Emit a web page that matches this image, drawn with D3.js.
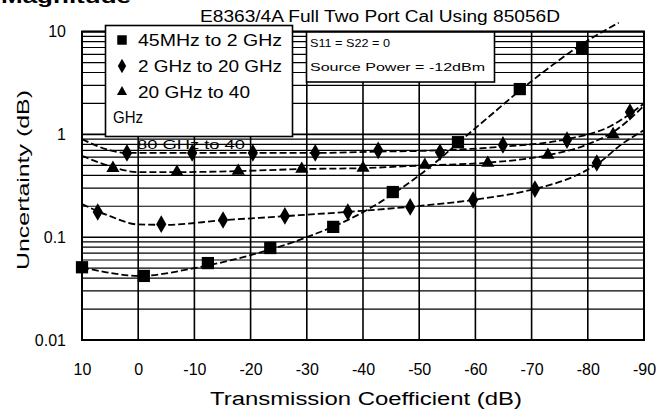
<!DOCTYPE html>
<html><head><meta charset="utf-8">
<script src="https://cdn.jsdelivr.net/npm/d3@7"></script>
<style>
html,body{margin:0;padding:0;background:#fff;}
svg{display:block;}
text{font-family:"Liberation Sans Narrow","Arial Narrow","Liberation Sans",Arial,sans-serif;fill:#000;}
</style></head>
<body>
<svg id="c" width="658" height="412"></svg>
<script>
// ---------- data ----------
const title = "E8363/4A Full Two Port Cal Using 85056D";
const xLabel = "Transmission Coefficient (dB)";
const yLabel = "Uncertainty (dB)";
const xTicks = [10, 0, -10, -20, -30, -40, -50, -60, -70, -80, -90];
const yTicks = [0.01, 0.1, 1, 10];
const yTickLabels = ["0.01", "0.1", "1", "10"];
const yMinor = [0.02,0.03,0.04,0.05,0.06,0.07,0.08,0.09,0.2,0.3,0.4,0.5,0.6,0.7,0.8,0.9,2,3,4,5,6,7,8,9];
const legendNames = ["45MHz to 2  GHz", "2 GHz to 20 GHz", "20 GHz to 40", "GHz"];
const noteLines = ["S11 = S22 = 0", "Source Power = -12dBm"];

// 45 MHz to 2 GHz (squares)
const sqX = [10, -1, -12.4, -23.5, -34.7, -45.3, -56.9, -67.9, -79];
const sqY = [0.051, 0.042, 0.056, 0.0785, 0.126, 0.275, 0.84, 2.76, 6.9];
const sqFitX = [10, 5, 0, -10, -20, -30, -40, -50, -60, -70, -80, -85.5];
const sqFitY = [0.051, 0.045, 0.042, 0.05, 0.067, 0.1, 0.175, 0.4, 1.15, 3.3, 8.2, 12.2];

// 2 GHz to 20 GHz (diamonds, lower)
const dmX = [7.2, -4.1, -15.1, -26.1, -37.3, -48.4, -59.6, -70.6, -81.6];
const dmY = [0.176, 0.134, 0.147, 0.161, 0.176, 0.197, 0.230, 0.294, 0.527];
const dmFitX = [10, 5, 0, -5, -15, -26, -37, -48, -60, -70, -78, -82, -86, -90];
const dmFitY = [0.21, 0.16, 0.133, 0.132, 0.146, 0.16, 0.176, 0.197, 0.232, 0.29, 0.4, 0.53, 0.8, 1.1];

// 20 GHz to 40 GHz (triangles)
const trX = [4.5, -6.9, -17.8, -29.1, -40, -51, -62.2, -72.9, -84.5];
const trY = [0.47, 0.431, 0.44, 0.46, 0.471, 0.504, 0.527, 0.63, 1.0];
const trFitX = [10, 5, 0, -7, -18, -29, -40, -51, -62, -73, -80, -85, -90];
const trFitY = [0.62, 0.49, 0.43, 0.43, 0.44, 0.46, 0.47, 0.5, 0.53, 0.63, 0.8, 1.1, 1.9];

// upper diamonds series
const upX = [2, -9.6, -20.4, -31.5, -42.7, -53.7, -64.9, -76.3, -87.5];
const upY = [0.66, 0.66, 0.66, 0.66, 0.70, 0.67, 0.79, 0.88, 1.65];
const upFitX = [10, 5, 2, -9.6, -20.4, -31.5, -42.7, -53.7, -64.9, -76.3, -84, -90];
const upFitY = [0.9, 0.7, 0.66, 0.66, 0.66, 0.66, 0.68, 0.7, 0.76, 0.9, 1.2, 2.0];

// ---------- layout ----------
const svg = d3.select("#c");
const L = 82, R = 644, T = 31.6, B = 340;
const x = d3.scaleLinear().domain([10, -90]).range([L, R]);
const y = d3.scaleLog().domain([0.01, 10]).range([B, T]);

// cut-off heading at very top
svg.append("text").attr("x", 1).attr("y", 3).attr("font-size", 19)
  .attr("font-weight", "bold").attr("font-family", "Liberation Sans, Arial, sans-serif")
  .attr("textLength", 130).attr("lengthAdjust", "spacingAndGlyphs").text("Magnitude");

// title
svg.append("text").attr("x", 200).attr("y", 22).attr("font-size", 16)
  .attr("textLength", 360).attr("lengthAdjust", "spacingAndGlyphs").text(title);

// ghost text underneath grid
svg.append("text").attr("x", 137).attr("y", 149).attr("font-size", 12)
  .attr("textLength", 108).attr("lengthAdjust", "spacingAndGlyphs").text("80 GHz to 40");

const g = svg.append("g");
// minor grid
g.selectAll("line.minor").data(yMinor).join("line")
  .attr("x1", L).attr("x2", R).attr("y1", d => y(d)).attr("y2", d => y(d))
  .attr("stroke", "#000").attr("stroke-width", 1.2);
// major horizontal grid
g.selectAll("line.major").data(yTicks).join("line")
  .attr("x1", L).attr("x2", R).attr("y1", d => y(d)).attr("y2", d => y(d))
  .attr("stroke", "#000").attr("stroke-width", 1.6);
// vertical grid
g.selectAll("line.vg").data(xTicks).join("line")
  .attr("x1", d => x(d)).attr("x2", d => x(d)).attr("y1", T).attr("y2", B)
  .attr("stroke", "#000").attr("stroke-width", 1.6);

// axes tick labels
const xa = d3.axisBottom(x).tickValues(xTicks).tickSize(0).tickPadding(0).tickFormat(d => String(d));
const xg = svg.append("g").attr("transform", `translate(0,${B + 24})`).call(xa);
xg.select(".domain").remove();
xg.selectAll("text").attr("font-size", 16).attr("dy", "0.71em")
  .attr("font-family", "Liberation Sans Narrow, Arial Narrow, Liberation Sans, sans-serif");

const ya = d3.axisLeft(y).tickValues(yTicks).tickSize(0).tickPadding(16)
  .tickFormat((d, i) => yTickLabels[i]);
const yg = svg.append("g").attr("transform", `translate(${L},0)`).call(ya);
yg.select(".domain").remove();
yg.selectAll("text").attr("font-size", 16)
  .attr("font-family", "Liberation Sans Narrow, Arial Narrow, Liberation Sans, sans-serif");

// axis labels
svg.append("text").attr("x", 210).attr("y", 405).attr("font-size", 18)
  .attr("textLength", 312).attr("lengthAdjust", "spacingAndGlyphs").text(xLabel);
svg.append("text").attr("transform", "translate(29,270) rotate(-90)").attr("font-size", 17)
  .attr("textLength", 180).attr("lengthAdjust", "spacingAndGlyphs").text(yLabel);

// curves
const line = d3.line().x(d => x(d[0])).y(d => y(d[1])).curve(d3.curveMonotoneX);
const fits = [[sqFitX, sqFitY], [dmFitX, dmFitY], [trFitX, trFitY], [upFitX, upFitY]];
fits.forEach(([fx, fy]) => {
  svg.append("path").datum(fx.map((v, i) => [v, fy[i]])).attr("d", line)
    .attr("fill", "none").attr("stroke", "#000").attr("stroke-width", 1.8)
    .attr("stroke-dasharray", "7,3");
});

// markers
function draw(xs, ys, type) {
  const pts = xs.map((v, i) => [x(v), y(ys[i])]);
  const sym = type === "sq" ? d3.symbolSquare : type === "tr" ? d3.symbolTriangle : d3.symbolDiamond;
  const size = type === "sq" ? 150 : type === "tr" ? 75 : 90;
  svg.append("g").selectAll("path").data(pts).join("path")
    .attr("transform", d => `translate(${d[0]},${d[1]})`)
    .attr("d", d3.symbol().type(sym).size(size)).attr("fill", "#000");
}
draw(sqX, sqY, "sq");
draw(dmX, dmY, "dm");
draw(trX, trY, "tr");
draw(upX, upY, "dm");

// border
svg.append("rect").attr("x", L).attr("y", T).attr("width", R - L).attr("height", B - T)
  .attr("fill", "none").attr("stroke", "#000").attr("stroke-width", 2);

// legend box 1
svg.append("rect").attr("x", 105.5).attr("y", 25.5).attr("width", 187).attr("height", 111)
  .attr("fill", "#fff").attr("stroke", "#000").attr("stroke-width", 1.6);
const legY = [46, 72, 98];
const legSym = [d3.symbolSquare, d3.symbolDiamond, d3.symbolTriangle];
const legSize = [90, 60, 45];
const legLen = [144, 144, 112];
legY.forEach((yy, i) => {
  svg.append("path").attr("transform", `translate(122,${yy - 6})`)
    .attr("d", d3.symbol().type(legSym[i]).size(legSize[i])).attr("fill", "#000");
  svg.append("text").attr("x", 138).attr("y", yy).attr("font-size", 16)
    .attr("textLength", legLen[i]).attr("lengthAdjust", "spacingAndGlyphs").text(legendNames[i]);
});
svg.append("text").attr("x", 113).attr("y", 123).attr("font-size", 16)
  .attr("textLength", 30).attr("lengthAdjust", "spacingAndGlyphs").text(legendNames[3]);

// legend box 2
svg.append("rect").attr("x", 306.5).attr("y", 32).attr("width", 188).attr("height", 50)
  .attr("fill", "#fff").attr("stroke", "#000").attr("stroke-width", 1.6);
svg.append("text").attr("x", 310).attr("y", 47).attr("font-size", 11)
  .attr("textLength", 80).attr("lengthAdjust", "spacingAndGlyphs").text(noteLines[0]);
svg.append("text").attr("x", 310).attr("y", 71).attr("font-size", 11)
  .attr("textLength", 175).attr("lengthAdjust", "spacingAndGlyphs").text(noteLines[1]);
</script>
</body></html>
